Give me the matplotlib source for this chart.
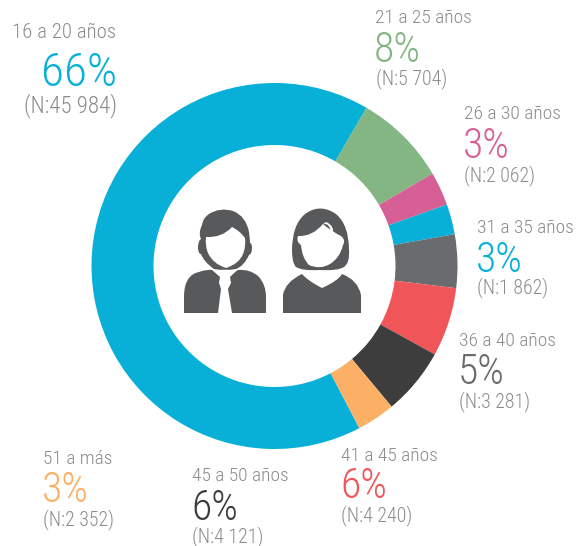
import numpy as np
import matplotlib
matplotlib.use('Agg')
from matplotlib import pyplot as plt
from matplotlib.path import Path
from matplotlib.patches import PathPatch

# grupos de edad, en el orden de la dona
grupos = ['16 a 20 años', '21 a 25 años', '26 a 30 años', '31 a 35 años',
          '36 a 40 años', '41 a 45 años', '45 a 50 años', '51 a más']
porcentajes = ['66%', '8%', '3%', '3%', '5%', '6%', '6%', '3%']
casos = [45984, 5704, 2062, 1862, 3281, 4240, 4121, 2352]
colores = ['#08B0D8', '#84B683', '#D66096', '#08B0D8',
           '#6A6B6E', '#EF5559', '#3D3D3D', '#FBB065']

W, H = 582, 546
GRIS = '#8A8B8D'
ICONO = '#58595B'
plt.rcParams['font.family'] = ['Roboto Condensed', 'Roboto', 'Liberation Sans', 'DejaVu Sans']

fig = plt.figure(figsize=(W / 100, H / 100), dpi=100)

# dona: centro (274.5, 266), radios 183 y 121
cx, cy, r = 274.5, 266, 183
ax = fig.add_axes([(cx - r) / W, 1 - (cy + r) / H, 2 * r / W, 2 * r / H])
ax.pie(casos, colors=colores, startangle=59.8 + 360 * casos[0] / sum(casos), counterclock=False,
       radius=1, wedgeprops=dict(width=1 - 121 / 183, linewidth=0))
ax.set_xlim(-1, 1)
ax.set_ylim(-1, 1)

# capa en pixeles para textos e iconos
capa = fig.add_axes([0, 0, 1, 1])
capa.set_xlim(0, W)
capa.set_ylim(H, 0)
capa.axis('off')
capa.patch.set_alpha(0)

# x,y de cada una de las tres lineas
pos = [(12, 33, 41, 73, 24, 106), (375, 18, 374, 50, 376, 79),
       (464, 114, 463, 147, 464, 176), (477, 228, 476, 260, 477, 288),
       (459, 341, 458, 373, 459, 402), (341, 456, 340, 487, 341, 516),
       (192, 476, 191, 508, 192, 537), (43, 459, 42, 491, 43, 520)]
tam_pct = [34, 30, 30, 30, 30, 30, 30, 30]
tam_eti = [15, 14, 14, 14, 14, 14, 14, 14]
tam_n = [16.5, 14.3, 14.3, 14.3, 14.3, 14.3, 14.3, 14.3]
for i in range(8):
    x1, y1, x2, y2, x3, y3 = pos[i]
    capa.text(x1, y1, grupos[i], color=GRIS, fontsize=tam_eti[i], fontweight='light', va='center', ha='left')
    capa.text(x2, y2, porcentajes[i], color=colores[i], fontsize=tam_pct[i], fontweight='light', va='center', ha='left')
    n = '(N:{} {:03d})'.format(casos[i] // 1000, casos[i] % 1000)
    capa.text(x3, y3, n, color=GRIS, fontsize=tam_n[i], fontweight='light', va='center', ha='left')


def forma(puntos):
    verts, codes = [], []
    for p in puntos:
        if len(p) == 2 and not verts:
            verts.append(p); codes.append(Path.MOVETO)
        elif len(p) == 2:
            verts.append(p); codes.append(Path.LINETO)
        else:
            verts += [p[:2], p[2:]]; codes += [Path.CURVE3, Path.CURVE3]
    verts.append(verts[0]); codes.append(Path.CLOSEPOLY)
    return Path(verts, codes)


def pinta(puntos, color=ICONO):
    capa.add_patch(PathPatch(forma(puntos), facecolor=color, edgecolor='none'))


# hombre: cabeza y pelo
pinta([(201, 239), (198, 233, 202, 225), (203, 218, 209, 214), (220, 207, 233, 211),
       (246, 216, 249, 232), (250, 240, 250, 243), (252, 243, 252, 248), (252, 254, 249, 255),
       (244, 266, 236, 269), (225, 271, 214, 269), (204, 262, 201, 254), (198, 254, 198, 247),
       (198, 241, 201, 239)])
# cara
pinta([(206, 237), (222, 238, 232, 227), (240, 231, 245, 238), (246, 247, 243, 254),
       (239, 264, 226, 268), (213, 264, 208, 253), (205, 246, 206, 237)], '#FFFFFF')
# hombre: torso
pinta([(184, 313), (184, 297), (184, 275, 199, 272), (207, 269, 212, 270), (220, 277, 220, 277),
       (219, 283), (221, 289), (218, 313)])
pinta([(230, 277), (237, 270, 238, 270), (250, 269, 258, 276), (266, 284, 266, 297),
       (266, 313), (232, 313), (228, 289), (231, 283)])
# mujer: melena
pinta([(292, 250), (292, 225, 305, 214), (320, 203, 336, 214), (349, 225, 349, 250),
       (350, 263, 344, 267), (338, 271, 320, 270), (302, 271, 296, 267), (292, 263, 292, 250)])
# cara y flequillo
pinta([(298, 236), (312, 237, 323, 224), (331, 231, 341, 236), (346, 240, 343, 245),
       (340, 258, 330, 264), (320, 270, 309, 265), (302, 258, 301, 245), (296, 242, 298, 236)], '#FFFFFF')
pinta([(323, 224), (330, 222, 332, 236), (336, 226, 326, 222)], '#FFFFFF')
# mujer: torso
pinta([(283, 313), (283, 295), (285, 282, 302, 274), (308, 281, 322, 288), (338, 281, 342, 274),
       (358, 280, 361, 295), (361, 313)])

fig.savefig('out.png', dpi=100)
